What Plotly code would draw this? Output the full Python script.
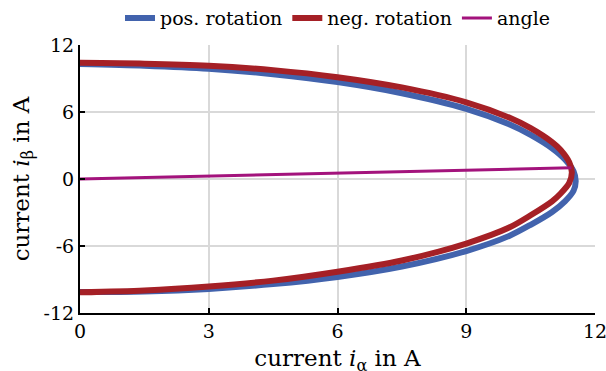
import plotly.graph_objects as go

# --- data ---
pos_x = [0, 1.5, 3, 4.5, 6, 7.5, 9, 10, 10.5, 11.0, 11.3, 11.5, 11.55,
         11.5, 11.3, 11.0, 10.5, 10, 9, 7.5, 6, 4.5, 3, 1.5, 0]
pos_y = [10.3, 10.15, 9.88, 9.38, 8.68, 7.68, 6.28, 4.9, 3.95, 2.75, 1.75, 0.7, -0.2,
         -1.05, -2.0, -2.95, -4.1, -5.1, -6.45, -7.84, -8.77, -9.41, -9.84, -10.07, -10.13]

neg_x = [0, 1.5, 3, 4.5, 6, 7.5, 9, 10, 10.5, 11.0, 11.2, 11.4, 11.46,
         11.4, 11.2, 11.0, 10.5, 10, 9, 7.5, 6, 4.5, 3, 1.5, 0]
neg_y = [10.4, 10.33, 10.15, 9.75, 9.12, 8.2, 6.87, 5.5, 4.55, 3.3, 2.6, 1.5, 0.6,
         -0.35, -1.3, -2.0, -3.25, -4.35, -5.78, -7.3, -8.3, -9.1, -9.62, -9.98, -10.15]

angle_x = [0, 11.45]
angle_y = [0, 1.0]

x_ticks = [0, 3, 6, 9, 12]
y_ticks = [-12, -6, 0, 6, 12]

BLUE = "#4263ad"
RED = "#a52026"
MAG = "#a3137c"
FONT = "DejaVu Serif"

fig = go.Figure()
fig.add_trace(go.Scatter(x=pos_x, y=pos_y, mode="lines", name="pos. rotation",
                         line=dict(color=BLUE, width=6, shape="spline", smoothing=0.8)))
fig.add_trace(go.Scatter(x=neg_x, y=neg_y, mode="lines", name="neg. rotation",
                         line=dict(color=RED, width=6, shape="spline", smoothing=0.8)))
fig.add_trace(go.Scatter(x=angle_x, y=angle_y, mode="lines", name="angle",
                         line=dict(color=MAG, width=3)))

# figure is slightly taller than the window so that, as in the reference,
# the bottom of the x-axis title is cut by the window edge
fig.update_layout(
    template="none",
    width=606, height=380,
    margin=dict(l=80, r=11, t=45, b=67, autoexpand=False),
    paper_bgcolor="white", plot_bgcolor="white",
    font=dict(family=FONT, size=19, color="black"),
    legend=dict(orientation="h", x=0.5, xanchor="center", y=1.10, yanchor="middle",
                font=dict(size=19), itemwidth=30, tracegroupgap=0,
                bgcolor="rgba(0,0,0,0)", borderwidth=0),
    xaxis=dict(range=[0, 12], tickvals=x_ticks, ticktext=[str(v) for v in x_ticks],
               automargin=False, ticklabeloverflow="allow",
               showgrid=True, gridcolor="#d9d9d9", gridwidth=2, zeroline=False,
               showline=True, linecolor="black", linewidth=2,
               ticks="inside", ticklen=5, tickwidth=2, tickcolor="black",
               tickfont=dict(size=19),
               title=dict(text="current <i>i</i><sub>α</sub> in A", standoff=9)),
    yaxis=dict(range=[-12, 12], tickvals=y_ticks, ticktext=[str(v) for v in y_ticks],
               automargin=False, ticklabeloverflow="allow",
               showgrid=True, gridcolor="#d9d9d9", gridwidth=2, zeroline=False,
               showline=True, linecolor="black", linewidth=2,
               ticks="inside", ticklen=5, tickwidth=2, tickcolor="black",
               tickfont=dict(size=19),
               title=dict(text="current <i>i</i><sub>β</sub> in A", standoff=8)),
)

fig.write_html(
    "out.html",
    config={"displayModeBar": False},
    post_script=("document.body.style.margin='0';"
                 "document.body.style.overflow='hidden';"
                 "document.documentElement.style.overflow='hidden';"),
)
